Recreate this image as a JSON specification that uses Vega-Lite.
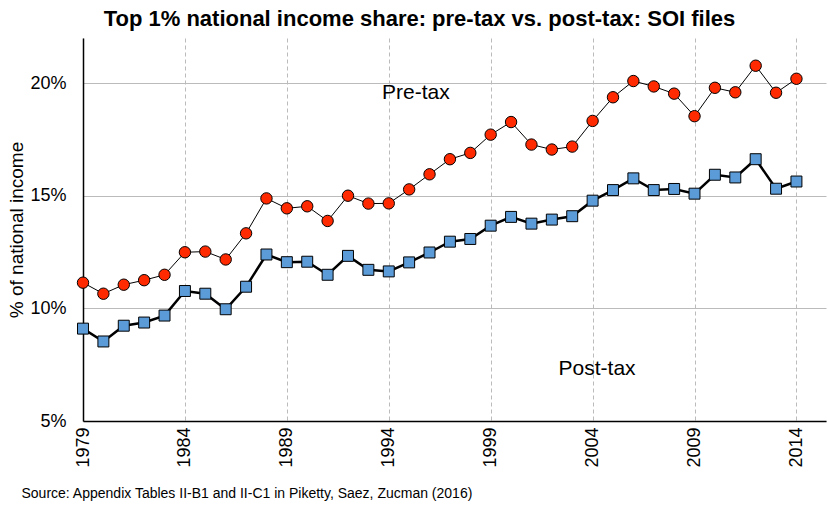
{
  "$schema": "https://vega.github.io/schema/vega-lite/v6.json",
  "width": 743,
  "height": 383,
  "autosize": {"type": "none"},
  "padding": {"left": 83, "top": 38, "right": 2, "bottom": 89},
  "background": "white",
  "config": {"font": "Liberation Sans", "view": {"stroke": null}},
  "title": {"text": "Top 1% national income share: pre-tax vs. post-tax: SOI files", "fontSize": 22, "fontWeight": "bold", "anchor": "middle", "dx": -35, "offset": 7, "color": "black", "font": "Liberation Sans"},
  "datasets": {
    "series": [
      {"year": 1979, "series": "Pre-tax", "value": 11.14}, {"year": 1980, "series": "Pre-tax", "value": 10.65},
      {"year": 1981, "series": "Pre-tax", "value": 11.05}, {"year": 1982, "series": "Pre-tax", "value": 11.25},
      {"year": 1983, "series": "Pre-tax", "value": 11.49}, {"year": 1984, "series": "Pre-tax", "value": 12.49},
      {"year": 1985, "series": "Pre-tax", "value": 12.52}, {"year": 1986, "series": "Pre-tax", "value": 12.17},
      {"year": 1987, "series": "Pre-tax", "value": 13.33}, {"year": 1988, "series": "Pre-tax", "value": 14.88},
      {"year": 1989, "series": "Pre-tax", "value": 14.44}, {"year": 1990, "series": "Pre-tax", "value": 14.53},
      {"year": 1991, "series": "Pre-tax", "value": 13.88}, {"year": 1992, "series": "Pre-tax", "value": 15.0},
      {"year": 1993, "series": "Pre-tax", "value": 14.65}, {"year": 1994, "series": "Pre-tax", "value": 14.66},
      {"year": 1995, "series": "Pre-tax", "value": 15.28}, {"year": 1996, "series": "Pre-tax", "value": 15.95},
      {"year": 1997, "series": "Pre-tax", "value": 16.62}, {"year": 1998, "series": "Pre-tax", "value": 16.9},
      {"year": 1999, "series": "Pre-tax", "value": 17.71}, {"year": 2000, "series": "Pre-tax", "value": 18.27},
      {"year": 2001, "series": "Pre-tax", "value": 17.27}, {"year": 2002, "series": "Pre-tax", "value": 17.05},
      {"year": 2003, "series": "Pre-tax", "value": 17.18}, {"year": 2004, "series": "Pre-tax", "value": 18.32},
      {"year": 2005, "series": "Pre-tax", "value": 19.37}, {"year": 2006, "series": "Pre-tax", "value": 20.09},
      {"year": 2007, "series": "Pre-tax", "value": 19.85}, {"year": 2008, "series": "Pre-tax", "value": 19.53},
      {"year": 2009, "series": "Pre-tax", "value": 18.53}, {"year": 2010, "series": "Pre-tax", "value": 19.79},
      {"year": 2011, "series": "Pre-tax", "value": 19.59}, {"year": 2012, "series": "Pre-tax", "value": 20.77},
      {"year": 2013, "series": "Pre-tax", "value": 19.57}, {"year": 2014, "series": "Pre-tax", "value": 20.19},
      {"year": 1979, "series": "Post-tax", "value": 9.1}, {"year": 1980, "series": "Post-tax", "value": 8.53},
      {"year": 1981, "series": "Post-tax", "value": 9.23}, {"year": 1982, "series": "Post-tax", "value": 9.37},
      {"year": 1983, "series": "Post-tax", "value": 9.68}, {"year": 1984, "series": "Post-tax", "value": 10.77},
      {"year": 1985, "series": "Post-tax", "value": 10.65}, {"year": 1986, "series": "Post-tax", "value": 9.96},
      {"year": 1987, "series": "Post-tax", "value": 10.96}, {"year": 1988, "series": "Post-tax", "value": 12.39},
      {"year": 1989, "series": "Post-tax", "value": 12.05}, {"year": 1990, "series": "Post-tax", "value": 12.07},
      {"year": 1991, "series": "Post-tax", "value": 11.49}, {"year": 1992, "series": "Post-tax", "value": 12.33},
      {"year": 1993, "series": "Post-tax", "value": 11.71}, {"year": 1994, "series": "Post-tax", "value": 11.64},
      {"year": 1995, "series": "Post-tax", "value": 12.04}, {"year": 1996, "series": "Post-tax", "value": 12.48},
      {"year": 1997, "series": "Post-tax", "value": 12.96}, {"year": 1998, "series": "Post-tax", "value": 13.08},
      {"year": 1999, "series": "Post-tax", "value": 13.67}, {"year": 2000, "series": "Post-tax", "value": 14.06},
      {"year": 2001, "series": "Post-tax", "value": 13.76}, {"year": 2002, "series": "Post-tax", "value": 13.94},
      {"year": 2003, "series": "Post-tax", "value": 14.09}, {"year": 2004, "series": "Post-tax", "value": 14.78},
      {"year": 2005, "series": "Post-tax", "value": 15.25}, {"year": 2006, "series": "Post-tax", "value": 15.77},
      {"year": 2007, "series": "Post-tax", "value": 15.25}, {"year": 2008, "series": "Post-tax", "value": 15.3},
      {"year": 2009, "series": "Post-tax", "value": 15.09}, {"year": 2010, "series": "Post-tax", "value": 15.93},
      {"year": 2011, "series": "Post-tax", "value": 15.81}, {"year": 2012, "series": "Post-tax", "value": 16.62},
      {"year": 2013, "series": "Post-tax", "value": 15.31}, {"year": 2014, "series": "Post-tax", "value": 15.63}
    ],
    "labels": [
      {"year": 1995.33, "value": 19.56, "label": "Pre-tax"},
      {"year": 2004.22, "value": 7.3, "label": "Post-tax"}
    ]
  },
  "encoding": {
    "x": {
      "field": "year", "type": "quantitative",
      "scale": {"domain": [1979, 2015.45], "nice": false, "zero": false},
      "axis": {
        "values": [1979, 1984, 1989, 1994, 1999, 2004, 2009, 2014],
        "format": "d", "labelAngle": -90, "labelFontSize": 18, "labelColor": "black", "labelPadding": 6,
        "ticks": false, "domainColor": "black", "domainWidth": 1.5,
        "grid": true, "gridColor": "#bbbbbb", "gridDash": [4, 3], "gridWidth": 1,
        "title": "Source: Appendix Tables II-B1 and II-C1 in Piketty, Saez, Zucman (2016)",
        "titleFontSize": 14, "titleFontWeight": "normal", "titleColor": "black",
        "titleAnchor": "start", "titleAlign": "left", "titleX": -62, "titleY": 72, "titleBaseline": "middle"
      }
    },
    "y": {
      "field": "value", "type": "quantitative",
      "scale": {"domain": [5, 22], "nice": false, "zero": false},
      "axis": {
        "values": [5, 10, 15, 20], "labelExpr": "datum.value + '%'",
        "labelFontSize": 18, "labelColor": "black", "labelPadding": 17,
        "ticks": false, "domainColor": "black", "domainWidth": 1.5,
        "grid": true, "gridColor": "#bbbbbb", "gridWidth": 1,
        "title": "% of national income", "titleFontSize": 19, "titleFontWeight": "normal", "titleColor": "black",
        "titlePadding": 3
      }
    }
  },
  "layer": [
    {
      "data": {"name": "series"},
      "transform": [{"filter": "datum.series === 'Pre-tax'"}],
      "mark": {"type": "line", "color": "black", "strokeWidth": 1}
    },
    {
      "data": {"name": "series"},
      "transform": [{"filter": "datum.series === 'Post-tax'"}],
      "mark": {"type": "line", "color": "black", "strokeWidth": 2.5}
    },
    {
      "data": {"name": "series"},
      "transform": [{"filter": "datum.series === 'Pre-tax'"}],
      "mark": {"type": "point", "shape": "circle", "filled": true, "fill": "#ff2a00", "stroke": "black", "strokeWidth": 1, "size": 130, "opacity": 1}
    },
    {
      "data": {"name": "series"},
      "transform": [{"filter": "datum.series === 'Post-tax'"}],
      "mark": {"type": "point", "shape": "square", "filled": true, "fill": "#5b9bd8", "stroke": "black", "strokeWidth": 1, "size": 120, "opacity": 1}
    },
    {
      "data": {"name": "labels"},
      "mark": {"type": "text", "fontSize": 21, "color": "black", "align": "center", "baseline": "middle"},
      "encoding": {"text": {"field": "label"}}
    }
  ]
}
